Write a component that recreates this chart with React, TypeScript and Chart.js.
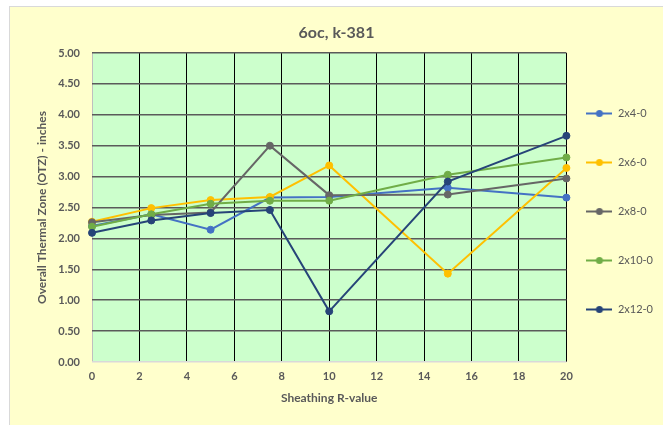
import React, { useEffect, useRef } from "react";
import { Chart, registerables } from "chart.js";

Chart.register(...registerables);

const TITLE = "6oc, k-381";
const X_TITLE = "Sheathing R-value";
const Y_TITLE = "Overall Thermal Zone (OTZ) - inches";

const R_VALUES = [0, 2.5, 5, 7.5, 10, 15, 20];
const SERIES_NAMES = ["2x4-0", "2x6-0", "2x8-0", "2x10-0", "2x12-0"];
const S_2X4 = [2.2, 2.39, 2.14, 2.66, 2.67, 2.82, 2.66];
const S_2X6 = [2.27, 2.49, 2.62, 2.67, 3.18, 1.43, 3.14];
const S_2X8 = [2.26, 2.38, 2.42, 3.5, 2.7, 2.71, 2.97];
const S_2X10 = [2.19, 2.39, 2.56, 2.61, 2.61, 3.03, 3.31];
const S_2X12 = [2.09, 2.29, 2.41, 2.46, 0.82, 2.92, 3.66];
const SERIES_VALUES = [S_2X4, S_2X6, S_2X8, S_2X10, S_2X12];
const COLORS = ["#4472C4", "#FFC000", "#666666", "#70AD47", "#264478"];

const FONT = "Lato, 'Open Sans', sans-serif";
const TEXT_COLOR = "#595959";

function makeMarker(color: string) {
  const c = document.createElement("canvas");
  c.width = 26;
  c.height = 9;
  const g = c.getContext("2d")!;
  g.strokeStyle = color;
  g.lineWidth = 2;
  g.beginPath();
  g.moveTo(0, 4.5);
  g.lineTo(26, 4.5);
  g.stroke();
  g.fillStyle = color;
  g.beginPath();
  g.arc(13, 4.5, 3.5, 0, Math.PI * 2);
  g.fill();
  return c;
}

const plotBg = {
  id: "plotBg",
  beforeDraw(chart: any) {
    const { ctx, chartArea } = chart;
    ctx.save();
    ctx.fillStyle = "#CCFFCC";
    ctx.fillRect(chartArea.left, chartArea.top, chartArea.right - chartArea.left, chartArea.bottom - chartArea.top);
    ctx.restore();
  },
};

export default function App() {
  const ref = useRef<HTMLCanvasElement>(null);

  useEffect(() => {
    document.body.style.overflow = "hidden";
    const markers = COLORS.map(makeMarker);
    const chart = new Chart(ref.current!, {
      type: "line",
      data: {
        datasets: SERIES_NAMES.map((name, i) => ({
          label: name,
          data: R_VALUES.map((x, j) => ({ x, y: SERIES_VALUES[i][j] })),
          borderColor: COLORS[i],
          backgroundColor: COLORS[i],
          pointBackgroundColor: COLORS[i],
          pointBorderColor: COLORS[i],
          pointRadius: 3.5,
          pointBorderWidth: 1,
          borderWidth: 2,
          tension: 0,
          clip: false as any,
          order: SERIES_NAMES.length - 1 - i,
        })),
      },
      options: {
        animation: false,
        responsive: false,
        events: [],
        layout: { padding: { left: 0, top: 9, right: 19, bottom: 0 } },
        plugins: {
          title: {
            display: true,
            text: TITLE,
            color: TEXT_COLOR,
            font: { family: FONT, size: 16, weight: "bold" },
            padding: { top: 7.4, bottom: 10.4 },
          },
          legend: {
            display: true,
            position: "right",
            labels: {
              usePointStyle: true,
              pointStyleWidth: 26,
              padding: 20,
              color: TEXT_COLOR,
              font: { family: FONT, size: 11, lineHeight: "29px" } as any,
              sort: (a: any, b: any) => a.datasetIndex - b.datasetIndex,
              generateLabels: (ch: any) => {
                const items = (Chart.defaults.plugins.legend.labels as any).generateLabels(ch);
                return items.map((it: any) => ({
                  ...it,
                  text: [it.text],
                  pointStyle: markers[it.datasetIndex],
                }));
              },
            },
          },
          tooltip: { enabled: false },
        },
        scales: {
          x: {
            type: "linear",
            min: 0,
            max: 20,
            afterFit: (s: any) => {
              s.height = 63;
            },
            ticks: {
              stepSize: 2,
              color: TEXT_COLOR,
              font: { family: FONT, size: 11, weight: "bold" },
              padding: 8,
            },
            grid: {
              drawTicks: false,
              color: (c: any) => (c.tick && c.tick.value === 0 ? "#BFBFBF" : "#000000"),
              lineWidth: 1,
            },
            border: { display: false },
            title: {
              display: true,
              text: X_TITLE,
              color: TEXT_COLOR,
              font: { family: FONT, size: 12, weight: "bold" },
              padding: { top: 0, bottom: 19.5 },
            },
          },
          y: {
            type: "linear",
            min: 0,
            max: 5,
            afterFit: (s: any) => {
              s.width = 82;
            },
            ticks: {
              stepSize: 0.5,
              color: TEXT_COLOR,
              font: { family: FONT, size: 11, weight: "bold" },
              padding: 12,
              callback: (v: any) => Number(v).toFixed(2),
            },
            grid: {
              drawTicks: false,
              color: (c: any) => (c.tick && c.tick.value === 0 ? "#D9D9D9" : "#5A5A5A"),
              lineWidth: 1.5,
            },
            border: { display: false },
            title: {
              display: true,
              text: Y_TITLE,
              color: TEXT_COLOR,
              font: { family: FONT, size: 12, weight: "bold" },
              padding: { top: 24.5, bottom: 0 },
            },
          },
        },
      },
      plugins: [plotBg],
    } as any);
    return () => chart.destroy();
  }, []);

  return (
    <div
      style={{
        position: "fixed",
        left: 9,
        top: 6,
        width: 672,
        height: 418,
        borderTop: "1px solid #D9D9D9",
        borderLeft: "1px solid #D9D9D9",
        background: "#FFFFCC",
      }}
    >
      <canvas ref={ref} width={672} height={418} style={{ display: "block", background: "#FFFFCC" }} />
    </div>
  );
}
